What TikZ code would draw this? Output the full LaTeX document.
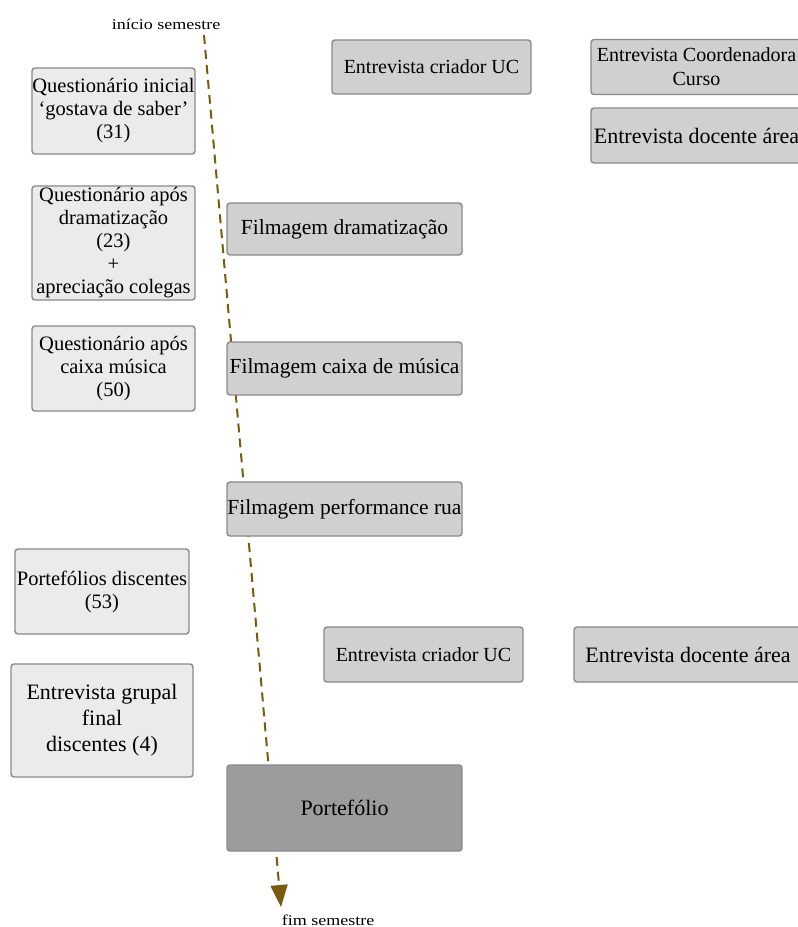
\documentclass[tikz,border=0pt]{standalone}
\usepackage{fontspec}
\setmainfont{Liberation Serif}
\usetikzlibrary{arrows.meta}
\definecolor{lightbox}{HTML}{EBEBEB}
\definecolor{midbox}{HTML}{D0D0D0}
\definecolor{darkbox}{HTML}{9C9C9C}
\definecolor{boxline}{HTML}{8A8A8A}
\definecolor{timeline}{HTML}{7A5A0C}
\begin{document}
\begin{tikzpicture}[x=1pt,y=-1pt,
  box/.style={draw=boxline, line width=1.4pt, rounded corners=3pt, align=center, inner sep=0pt, text=black},
  lbox/.style={box, fill=lightbox, font=\fontsize{20.5}{23}\selectfont},
  mbox/.style={box, fill=midbox, font=\fontsize{20}{24}\selectfont},
  bigtxt/.style={font=\fontsize{22}{26}\selectfont},
  filmtxt/.style={font=\fontsize{21.5}{26}\selectfont},
  dbox/.style={box, fill=darkbox, font=\fontsize{22}{26}\selectfont},
  lbl/.style={inner sep=0pt, text=black},
  tl/.style={draw=timeline, line width=2pt, dash pattern=on 9pt off 6pt, -{Triangle[length=22pt,width=17pt,fill=timeline]}}
]
\clip (0,0) rectangle (798,927);
\fill[white] (0,0) rectangle (798,927);

% timeline
\coordinate (ts) at (204,35);
\coordinate (te) at (281,907);
\draw[tl] (ts) -- (te);
\node[lbl, anchor=base] (ini) at (166,29) {\scalebox{1.2}[1]{\fontsize{15}{18}\selectfont início semestre}};
\node[lbl, anchor=base] (fim) at (328,925) {\scalebox{1.2}[1]{\fontsize{15}{18}\selectfont fim semestre}};

% left column
\node[lbox, minimum width=163, minimum height=86] (qi) at (113.5,111) {Questionário inicial\\‘gostava de saber’\\(31)};
\node[lbox, minimum width=163, minimum height=114] (qd) at (113.5,243) {Questionário após\\dramatização\\(23)\\+\\apreciação colegas};
\node[lbox, minimum width=163, minimum height=85] (qc) at (113.5,368.5) {Questionário após\\caixa música\\(50)};
\node[lbox, minimum width=174, minimum height=85] (pd) at (102,591.5) {Portefólios discentes\\(53)};
\node[lbox, bigtxt, minimum width=182, minimum height=113] (eg) at (102,720.5) {Entrevista grupal\\final\\discentes (4)};

% middle and right
\node[mbox, minimum width=199, minimum height=54] (ec1) at (431.5,67) {Entrevista criador UC};
\node[mbox, minimum width=211, minimum height=55] (eco) at (696.5,67) {Entrevista Coordenadora\\Curso};
\node[mbox, bigtxt, minimum width=211, minimum height=55] (ed1) at (696.5,135.5) {Entrevista docente área};
\node[mbox, filmtxt, minimum width=235, minimum height=52] (fd) at (344.5,229) {Filmagem dramatização};
\node[mbox, filmtxt, minimum width=235, minimum height=53] (fc) at (344.5,368.5) {Filmagem caixa de música};
\node[mbox, filmtxt, minimum width=235, minimum height=54] (fp) at (344.5,509) {Filmagem performance rua};
\node[mbox, minimum width=199, minimum height=55] (ec2) at (423.5,654.5) {Entrevista criador UC};
\node[mbox, bigtxt, minimum width=228, minimum height=55] (ed2) at (688,654.5) {Entrevista docente área};
\node[dbox, minimum width=235, minimum height=86] (pf) at (344.5,808) {Portefólio};
\end{tikzpicture}
\end{document}
